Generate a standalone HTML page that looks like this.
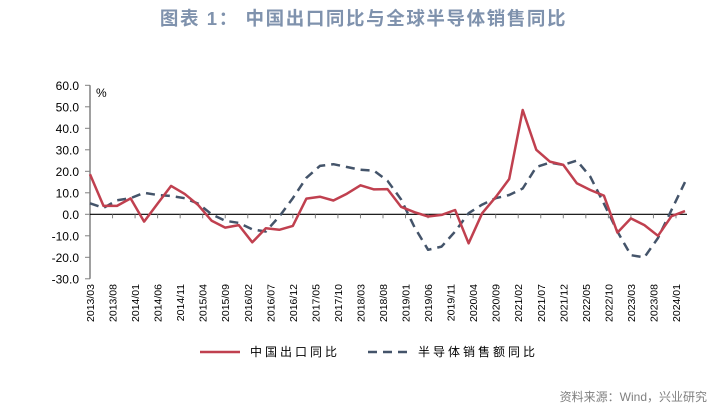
<!DOCTYPE html>
<html><head><meta charset="utf-8">
<style>
body{margin:0;width:727px;height:418px;background:#fff;overflow:hidden;font-family:"Liberation Sans","Noto Sans CJK SC",sans-serif;}
#title{position:absolute;left:0;width:727px;top:5px;text-align:center;font-size:18.5px;letter-spacing:1.6px;font-weight:bold;color:#7f92ad;}
#src{position:absolute;right:20px;top:388px;font-size:12px;color:#808080;}
svg{position:absolute;left:0;top:0;}
</style></head><body>
<div id="title">图表 1：&nbsp;中国出口同比与全球半导体销售同比</div>
<svg id="chart" width="727" height="418"></svg>
<div id="src">资料来源：Wind，兴业研究</div>
<script>
const xLabels=["2013/03","2013/08","2014/01","2014/06","2014/11","2015/04","2015/09","2016/02","2016/07","2016/12","2017/05","2017/10","2018/03","2018/08","2019/01","2019/06","2019/11","2020/04","2020/09","2021/02","2021/07","2021/12","2022/05","2022/10","2023/03","2023/08","2024/01"];
const yTicks=[60,50,40,30,20,10,0,-10,-20,-30];
const chinaExport=[18.6,3.9,3.9,7.4,-3.4,5,13.2,9.5,4.3,-3,-6.2,-5,-13,-6.5,-7.2,-5.4,7.3,8.2,6.4,9.6,13.5,11.6,11.7,3.5,1,-1,-0.3,2,-13.5,0.5,8,16.4,48.5,30,24.5,23,14.4,11.3,8.7,-8.5,-1.9,-5,-10,-0.9,1.5];
const semiSales=[5.1,3,6.5,7.5,10,9,8.5,7.5,5,0,-3,-4,-7,-8,-1,7.5,17,22.5,23.3,22,20.7,20.3,15.6,7,-6,-16.5,-15,-8,0.5,4.5,7.5,9,12,22,24,23,25,17.5,5,-8,-19,-20,-11,2,15];
const NS="http://www.w3.org/2000/svg";
const svg=document.getElementById('chart');
const X0=90,X1=685,Y0=214.3,PER=2.15;
const xq=i=>X0+(X1-X0)*i/(chinaExport.length-1);
const xm=m=>X0+(X1-X0)*m/132;
const y=v=>Y0-v*PER;
function el(t,a){const e=document.createElementNS(NS,t);for(const k in a)e.setAttribute(k,a[k]);svg.appendChild(e);return e;}
let e=el('line',{x1:X0,x2:X0,y1:y(60),y2:y(-30),stroke:'#808080','stroke-width':1.5});


yTicks.forEach(v=>{
 let t=el('line',{x1:X0-5,x2:X0,y1:y(v),y2:y(v),stroke:'#808080','stroke-width':1});
 
 
 let l=el('text',{x:X0-11,y:y(v)+4.5,'text-anchor':'end','font-size':12,fill:'#000'});
 l.textContent=v.toFixed(1);
 
 
});
let p=el('text',{x:96,y:97,'font-size':12});p.textContent='%';


e=el('line',{x1:X0,x2:X1+2,y1:Y0,y2:Y0,stroke:'#000','stroke-width':1.2});


xLabels.forEach((s,i)=>{
 const x=xm(i*5);
 if(i>0){let t=el('line',{x1:x,x2:x,y1:Y0,y2:Y0+4,stroke:'#808080','stroke-width':1});
 
 }
 let l=el('text',{x:0,y:0,'font-size':10.5,'text-anchor':'end',transform:`translate(${x+4},284) rotate(-90)`});
 l.textContent=s;
 
 
});
function line(arr,color,dash,name){
 const d=arr.map((v,i)=>(i?'L':'M')+xq(i).toFixed(1)+','+y(v).toFixed(1)).join('');
 const a={d:d,fill:'none',stroke:color,'stroke-width':2.5,'stroke-linejoin':'round'};
 if(dash)a['stroke-dasharray']=dash;
 const l=el('path',a);
 
 
}
line(semiSales,'#44546a','9,6','semiconductor-sales-line');
line(chinaExport,'#c0404f',null,'china-export-line');
let g1=el('line',{x1:200,x2:240,y1:352,y2:352,stroke:'#c0404f','stroke-width':2.5});


let t1=el('text',{x:250,y:356,'font-size':12,'letter-spacing':3});t1.textContent='中国出口同比';


let g2=el('line',{x1:368,x2:410,y1:352,y2:352,stroke:'#44546a','stroke-width':2.5,'stroke-dasharray':'9,6'});


let t2=el('text',{x:418,y:356,'font-size':12,'letter-spacing':3});t2.textContent='半导体销售额同比';


</script>
</body></html>
